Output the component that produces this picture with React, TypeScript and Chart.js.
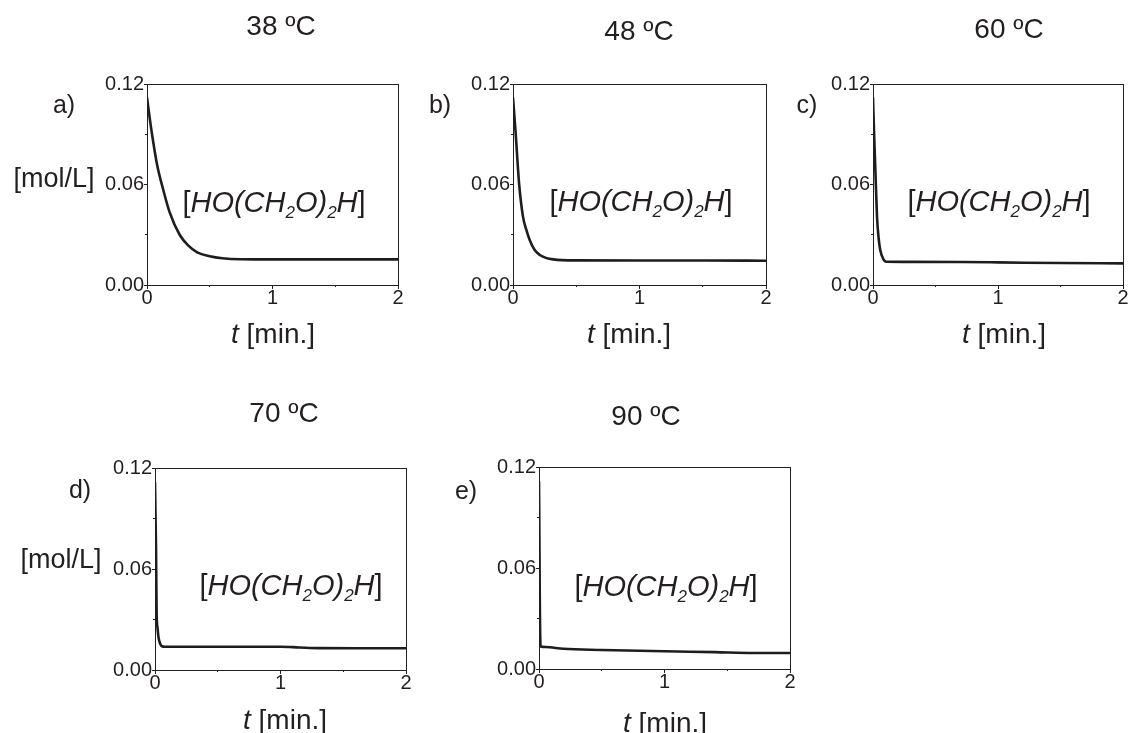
import React, { useEffect, useRef } from 'react';
import { Chart, registerables } from 'chart.js';

Chart.register(...registerables);

const FONT = '"Liberation Sans", Arial, Helvetica, sans-serif';
const INK = '#231f20';
const LINE = '#1d1d1b';

// ---- text ----
const temperatureLabels = ['38 ºC', '48 ºC', '60 ºC', '70 ºC', '90 ºC'];
const panelLetters = ['a)', 'b)', 'c)', 'd)', 'e)'];
const yAxisLabel = '[mol/L]';
const xAxisVariable = 't';
const xAxisUnit = ' [min.]';
const speciesParts = [
  { text: '[', italic: false, sub: false },
  { text: 'HO(CH', italic: true, sub: false },
  { text: '2', italic: true, sub: true },
  { text: 'O)', italic: true, sub: false },
  { text: '2', italic: true, sub: true },
  { text: 'H', italic: true, sub: false },
  { text: ']', italic: false, sub: false },
];

// ---- axes ----
const xMin = 0;
const xMax = 2;
const xMajorStep = 1;
const xMinorStep = 0.5;
const yMin = 0;
const yMax = 0.12;
const yMajorStep = 0.06;
const yMinorStep = 0.03;

// ---- data: time [min] and concentration [mol/L] ----
const time38 = [0, 0.02, 0.04, 0.08, 0.13, 0.18, 0.26, 0.33, 0.4, 0.5, 0.6, 0.75, 1.0, 1.5, 2.0];
const conc38 = [0.112, 0.1005, 0.09, 0.072, 0.0567, 0.0435, 0.03, 0.0235, 0.0195, 0.0172, 0.016, 0.0154, 0.0153, 0.0153, 0.0153];

const time48 = [0, 0.021, 0.048, 0.079, 0.105, 0.132, 0.17, 0.212, 0.26, 0.317, 0.5, 1.0, 1.5, 2.0];
const conc48 = [0.112, 0.0906, 0.0607, 0.0408, 0.033, 0.0269, 0.021, 0.0179, 0.0162, 0.0153, 0.0147, 0.0146, 0.0146, 0.0145];

const time60 = [0, 0.008, 0.018, 0.032, 0.045, 0.058, 0.08, 0.106, 0.3, 0.7, 1.0, 1.5, 2.0];
const conc60 = [0.112, 0.092, 0.0706, 0.0408, 0.028, 0.0209, 0.0158, 0.0139, 0.0138, 0.0137, 0.0135, 0.0131, 0.0129];

const time70 = [0, 0.004, 0.008, 0.013, 0.02, 0.027, 0.04, 0.053, 0.08, 0.5, 1.0, 1.15, 1.3, 1.6, 2.0];
const conc70 = [0.1117, 0.092, 0.0731, 0.0336, 0.025, 0.0198, 0.0158, 0.0142, 0.0138, 0.0138, 0.0138, 0.0134, 0.013, 0.0129, 0.0129];

const time90 = [0, 0.003, 0.006, 0.008, 0.013, 0.05, 0.194, 0.5, 1.0, 1.4, 1.71, 2.0];
const conc90 = [0.1115, 0.08, 0.045, 0.0273, 0.0134, 0.0131, 0.012, 0.0113, 0.0105, 0.01, 0.0095, 0.0095];

const seriesTimes = [time38, time48, time60, time70, time90];
const seriesConcs = [conc38, conc48, conc60, conc70, conc90];

// ---- layout (page pixel positions) ----
type Layout = {
  canvas: [number, number, number, number];
  area: [number, number, number, number];
  title: [number, number];
  letter: [number, number];
  ylab: [number, number] | null;
  xlab: [number, number];
  species: [number, number];
};

const layouts: Layout[] = [
  { canvas: [0, 0, 410, 350], area: [147, 84, 398, 285], title: [281, 27], letter: [64, 106], ylab: [54, 180], xlab: [273, 333], species: [274, 202] },
  { canvas: [400, 0, 380, 350], area: [513, 84, 766, 285], title: [639, 32], letter: [440, 106], ylab: null, xlab: [629, 333], species: [641, 201] },
  { canvas: [780, 0, 350, 350], area: [873, 84, 1123, 285], title: [1009, 30], letter: [807, 106], ylab: null, xlab: [1004, 333], species: [999, 201] },
  { canvas: [0, 380, 420, 353], area: [155, 468, 406, 670], title: [284, 414], letter: [80, 491], ylab: [61, 561], xlab: [285, 719], species: [291, 585] },
  { canvas: [420, 380, 400, 353], area: [539, 467, 790, 669], title: [646, 417], letter: [466, 492], ylab: null, xlab: [665, 722], species: [666, 586] },
];

const WY = 60;
const HX = 40;

type Run = { text: string; italic: boolean; sub: boolean };

function drawRuns(ctx: CanvasRenderingContext2D, runs: Run[], cx: number, cy: number, size: number) {
  const fontFor = (r: Run) => {
    const s = r.sub ? Math.round(size * 0.6) : size;
    return `${r.italic ? 'italic ' : ''}${s}px ${FONT}`;
  };
  let total = 0;
  const widths = runs.map((r) => {
    ctx.font = fontFor(r);
    const w = ctx.measureText(r.text).width;
    total += w;
    return w;
  });
  let x = cx - total / 2;
  const base = cy + size * 0.36;
  ctx.textAlign = 'left';
  ctx.textBaseline = 'alphabetic';
  runs.forEach((r, i) => {
    ctx.font = fontFor(r);
    ctx.fillText(r.text, x, r.sub ? base + size * 0.18 : base);
    x += widths[i];
  });
}

function Panel({ index }: { index: number }) {
  const ref = useRef<HTMLCanvasElement | null>(null);
  const L = layouts[index];
  const [x0, y0, w, h] = L.canvas;
  const [al, at, ar, ab] = L.area;

  useEffect(() => {
    if (!ref.current) return;
    const points = seriesTimes[index].map((t, i) => ({ x: t, y: seriesConcs[index][i] }));

    const textPlugin = {
      id: 'panelText' + index,
      afterDraw(chart: any) {
        const ctx = chart.ctx as CanvasRenderingContext2D;
        ctx.save();
        ctx.fillStyle = INK;
        ctx.textAlign = 'center';
        ctx.textBaseline = 'middle';
        ctx.font = `28px ${FONT}`;
        ctx.fillText(temperatureLabels[index], L.title[0] - x0, L.title[1] - y0);
        ctx.font = `25px ${FONT}`;
        ctx.fillText(panelLetters[index], L.letter[0] - x0, L.letter[1] - y0);
        if (L.ylab) {
          ctx.font = `27px ${FONT}`;
          ctx.textAlign = 'center';
          ctx.textBaseline = 'middle';
          ctx.fillText(yAxisLabel, L.ylab[0] - x0, L.ylab[1] - y0);
        }
        drawRuns(
          ctx,
          [
            { text: xAxisVariable, italic: true, sub: false },
            { text: xAxisUnit, italic: false, sub: false },
          ],
          L.xlab[0] - x0,
          L.xlab[1] - y0,
          28
        );
        drawRuns(ctx, speciesParts, L.species[0] - x0, L.species[1] - y0, 29);
        ctx.restore();
      },
    };

    const tickFont = { family: FONT, size: 20 };

    const chart = new Chart(ref.current, {
      type: 'line',
      data: {
        datasets: [
          {
            data: points,
            xAxisID: 'x',
            yAxisID: 'y',
            borderColor: LINE,
            borderWidth: 2.6,
            pointRadius: 0,
            cubicInterpolationMode: 'monotone',
            fill: false,
          },
        ],
      },
      options: {
        responsive: false,
        animation: false,
        devicePixelRatio: 1,
        events: [],
        layout: {
          padding: {
            left: al - x0 - WY,
            top: at - y0,
            right: x0 + w - ar,
            bottom: y0 + h - ab - HX,
          },
        },
        plugins: { legend: { display: false }, tooltip: { enabled: false }, title: { display: false } },
        scales: {
          x: {
            type: 'linear',
            position: 'bottom',
            weight: 1,
            min: xMin,
            max: xMax,
            ticks: {
              stepSize: xMajorStep,
              color: INK,
              font: tickFont,
              padding: -3,
              maxRotation: 0,
              autoSkip: false,
              callback: (v: any) => String(Math.round(Number(v))),
            },
            grid: { display: true, drawOnChartArea: false, drawTicks: true, tickLength: 4, tickColor: INK, tickWidth: 1 },
            border: { display: true, color: INK, width: 1 },
            afterFit: (s: any) => {
              s.height = HX;
            },
          },
          xMinor: {
            type: 'linear',
            position: 'bottom',
            weight: 0,
            min: xMin,
            max: xMax,
            ticks: { stepSize: xMinorStep, display: false },
            grid: { display: true, drawOnChartArea: false, drawTicks: true, tickLength: 2, tickColor: INK, tickWidth: 1 },
            border: { display: false },
            afterFit: (s: any) => {
              s.height = 0;
            },
          },
          xTop: {
            type: 'linear',
            position: 'top',
            min: xMin,
            max: xMax,
            ticks: { display: false },
            grid: { display: false },
            border: { display: true, color: INK, width: 1 },
            afterFit: (s: any) => {
              s.height = 0;
            },
          },
          y: {
            type: 'linear',
            position: 'left',
            weight: 1,
            min: yMin,
            max: yMax,
            ticks: {
              stepSize: yMajorStep,
              color: INK,
              font: tickFont,
              padding: 0,
              autoSkip: false,
              callback: (v: any) => Number(v).toFixed(2),
            },
            grid: { display: true, drawOnChartArea: false, drawTicks: true, tickLength: 3, tickColor: INK, tickWidth: 1 },
            border: { display: true, color: INK, width: 1 },
            afterFit: (s: any) => {
              s.width = WY;
            },
          },
          yMinor: {
            type: 'linear',
            position: 'left',
            weight: 0,
            min: yMin,
            max: yMax,
            ticks: { stepSize: yMinorStep, display: false },
            grid: { display: true, drawOnChartArea: false, drawTicks: true, tickLength: 2, tickColor: INK, tickWidth: 1 },
            border: { display: false },
            afterFit: (s: any) => {
              s.width = 0;
            },
          },
          yRight: {
            type: 'linear',
            position: 'right',
            min: yMin,
            max: yMax,
            ticks: { display: false },
            grid: { display: false },
            border: { display: true, color: INK, width: 1 },
            afterFit: (s: any) => {
              s.width = 0;
            },
          },
        },
      } as any,
      plugins: [textPlugin],
    });
    return () => chart.destroy();
  }, [index]);

  return (
    <canvas
      ref={ref}
      width={w}
      height={h}
      style={{ position: 'absolute', left: x0, top: y0, width: w, height: h }}
    />
  );
}

export default function App() {
  return (
    <div style={{ position: 'absolute', left: 0, top: 0, width: 1130, height: 733, background: '#ffffff' }}>
      {layouts.map((_, i) => (
        <Panel key={i} index={i} />
      ))}
    </div>
  );
}
